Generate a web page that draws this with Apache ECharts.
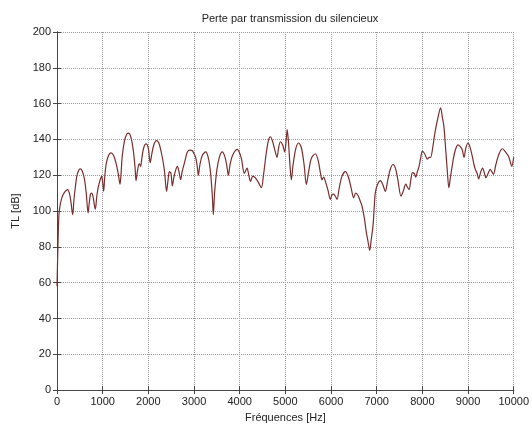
<!DOCTYPE html>
<html>
<head>
<meta charset="utf-8">
<script src="https://cdn.jsdelivr.net/npm/echarts@6/dist/echarts.min.js"></script>
<style>
html,body{margin:0;padding:0;background:#fff;}
#c{width:532px;height:428px;}
</style>
</head>
<body>
<div id="c"></div>
<script>
var chartTitle = 'Perte par transmission du silencieux';
var xLabel = 'Fréquences [Hz]';
var yLabel = 'TL [dB]';
var xTicks = [0,1000,2000,3000,4000,5000,6000,7000,8000,9000,10000];
var yTicks = [0,20,40,60,80,100,120,140,160,180,200];

var freqHz = [0,20,40,60,90,130,180,230,270,300,330,345,370,400,430,470,510,550,600,640,680,700,730,759,790,820,840,870,900,940,978,1000,1022,1045,1075,1120,1180,1240,1290,1340,1380,1400,1430,1480,1530,1570,1620,1670,1710,1730,1760,1800,1830,1860,1900,1950,2000,2040,2070,2120,2180,2230,2290,2350,2400,2430,2460,2495,2526,2560,2600,2635,2670,2708,2740,2781,2820,2854,2910,2964,3000,3036,3070,3095,3130,3180,3255,3310,3360,3400,3423,3450,3500,3560,3620,3680,3720,3752,3790,3850,3949,3990,4040,4102,4161,4200,4234,4290,4343,4410,4474,4526,4580,4630,4672,4720,4780,4818,4850,4891,4940,4985,5020,5040,5070,5100,5131,5170,5230,5292,5350,5410,5460,5510,5570,5657,5720,5770,5803,5840,5876,5930,5985,6020,6058,6100,6131,6180,6240,6314,6380,6440,6496,6540,6591,6640,6679,6730,6774,6810,6847,6880,6920,6950,6971,7020,7080,7130,7190,7240,7300,7358,7410,7460,7533,7580,7638,7680,7710,7750,7783,7820,7855,7890,7928,7965,8000,8050,8109,8150,8181,8230,8275,8340,8399,8440,8471,8500,8522,8550,8580,8615,8652,8700,8750,8783,8830,8870,8913,8950,9000,9040,9090,9130,9159,9200,9232,9280,9319,9360,9391,9440,9486,9520,9558,9610,9680,9754,9820,9884,9930,9957,10000];
var tlDb = [58,80,97,102,106,109,111,112,110,106,100,98,106,113,119,122.5,123.5,122.5,118,110,99,103,109,110,108,103,101,108,113,117,119.5,116,111,119,126,130.5,132.5,131,127,121,115,120,131,139.5,143,143.5,141,134,124,117,122,126.5,125,130,135.5,137.5,135,127,131,137,139.3,138,132,123,111,117,122,121,114,119,123,125,122,117.5,122,126,130,133,134,133.7,132,130,125,120,126,131,133,130,122,109,98,110,123,130.5,133,130,125,120,126,131.5,134.5,133,129,121,124,120,116.6,119.5,118.5,116,113,121,132,139.5,141.5,139,133,130,135,138.7,137,133,140,145.5,138,126,117.5,126,135,138,135.5,126,114.8,122,129.5,132,128,121,117.5,119,116.6,112,106.5,109,109.5,108,106.5,113,119.5,122,119,113,107.4,110,108.7,105.5,102.8,96,88,83,78,84,92,104,110.4,115,117,115,111,117,123.5,126,124,118,108.3,111,115,113,112,118,121.5,121,119,122,125,130,133.5,132,129,130,130,136,143.7,152,157.6,152,147.4,138,130.8,121,113,119,125,132,136,137,136,134.5,130,135,138,136,131,126,123.3,121,118,122,124,121,118.7,121,123.3,122,120.5,126,132,134.8,133,130.7,127,125,130];

var seriesData = freqHz.map(function(f, i){ return [f, tlDb[i]]; });

var chart = echarts.init(document.getElementById('c'));
var font = 'Liberation Sans, Arial, sans-serif';
var frame = {show:true, lineStyle:{color:'#444', width:1}};
chart.setOption({
  animation:false,
  backgroundColor:'#fff',
  title:{text:chartTitle, left:285, textAlign:'center', top:8, textStyle:{fontFamily:font, fontSize:11, fontWeight:'normal', color:'#222'}},
  grid:{left:57, right:18, top:32, bottom:36},
  xAxis:[{
    type:'value', min:xTicks[0], max:xTicks[xTicks.length-1], interval:1000,
    name:xLabel, nameLocation:'middle', nameGap:21,
    nameTextStyle:{fontFamily:font, fontSize:11, color:'#222'},
    axisLine:frame, axisTick:{show:true, inside:true, length:4, lineStyle:{color:'#444'}},
    axisLabel:{fontFamily:font, fontSize:11, color:'#222', margin:6, formatter:function(v){ return String(v); }},
    splitLine:{show:true, lineStyle:{color:'#999', type:'dotted', width:1}}
  },{
    type:'value', position:'top', min:xTicks[0], max:xTicks[xTicks.length-1], interval:1000,
    axisLine:frame, axisTick:{show:true, inside:true, length:4, lineStyle:{color:'#444'}},
    axisLabel:{show:false}, splitLine:{show:false}
  }],
  yAxis:[{
    type:'value', min:yTicks[0], max:yTicks[yTicks.length-1], interval:20,
    name:yLabel, nameLocation:'middle', nameGap:36,
    nameTextStyle:{fontFamily:font, fontSize:11, color:'#222'},
    axisLine:frame, axisTick:{show:true, inside:true, length:4, lineStyle:{color:'#444'}},
    axisLabel:{fontFamily:font, fontSize:11, color:'#222', margin:6, formatter:function(v){ return String(v); }},
    splitLine:{show:true, lineStyle:{color:'#999', type:'dotted', width:1}}
  },{
    type:'value', position:'right', min:yTicks[0], max:yTicks[yTicks.length-1], interval:20,
    axisLine:frame, axisTick:{show:true, inside:true, length:4, lineStyle:{color:'#444'}},
    axisLabel:{show:false}, splitLine:{show:false}
  }],
  series:[{
    type:'line', data:seriesData, showSymbol:false, smooth:0.3,
    lineStyle:{color:'#7a2e2e', width:1.2}
  }]
});
</script>
</body>
</html>
